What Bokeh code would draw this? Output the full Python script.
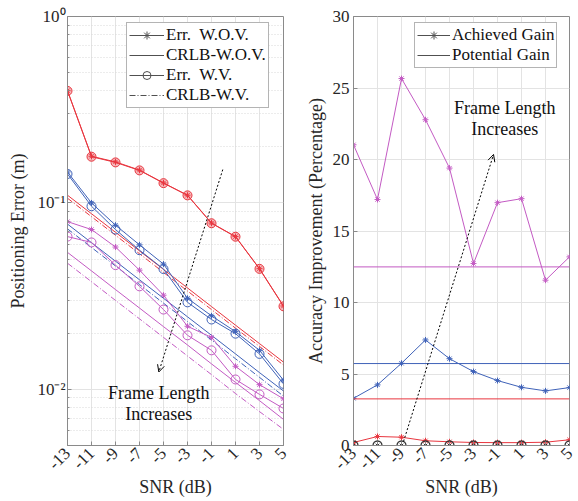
import math
from bokeh.plotting import figure
from bokeh.layouts import row
from bokeh.models import (Range1d, FixedTicker, CustomJSTickFormatter, Legend, LegendItem,
                          Arrow, OpenHead, Label, Span)
from bokeh.embed import file_html
from bokeh.resources import INLINE

# ---------------- data ----------------
snr = [-13, -11, -9, -7, -5, -3, -1, 1, 3, 5]
snr_ticks = [-13, -11, -9, -7, -5, -3, -1, 1, 3, 5]
snr_tick_labels = ["-13", "-11", "-9", "-7", "-5", "-3", "-1", "1", "3", "5"]

# left panel: positioning error (m)
err_wov_red = [0.400, 0.178, 0.166, 0.150, 0.128, 0.110, 0.078, 0.066, 0.0444, 0.0280]
err_wv_red = [0.399, 0.177, 0.165, 0.1495, 0.1277, 0.1098, 0.0778, 0.0659, 0.0443, 0.0279]
crlb_wov_red = [0.110, 0.0875, 0.0696, 0.0553, 0.0440, 0.0350, 0.0278, 0.0221, 0.0176, 0.0140]
crlb_wv_red = [0.106, 0.0844, 0.0671, 0.0534, 0.0424, 0.0337, 0.0268, 0.0213, 0.0170, 0.0135]

err_wov_blue = [0.1465, 0.100, 0.076, 0.0596, 0.047, 0.0308, 0.0248, 0.0204, 0.0162, 0.0112]
err_wv_blue = [0.143, 0.096, 0.072, 0.0558, 0.0442, 0.0293, 0.0237, 0.0199, 0.0155, 0.0107]
crlb_wov_blue = [0.0770, 0.0612, 0.0487, 0.0387, 0.0308, 0.0245, 0.0195, 0.0155, 0.0123, 0.0098]
crlb_wv_blue = [0.0726, 0.0577, 0.0459, 0.0365, 0.0290, 0.0231, 0.0184, 0.0146, 0.0116, 0.0092]

err_wov_pink = [0.0794, 0.072, 0.058, 0.0436, 0.032, 0.0218, 0.019, 0.0133, 0.0106, 0.0089]
err_wv_pink = [0.066, 0.0614, 0.0464, 0.0357, 0.0268, 0.0195, 0.0162, 0.0113, 0.0094, 0.0079]
crlb_wov_pink = [0.0543, 0.0432, 0.0343, 0.0273, 0.0217, 0.0173, 0.0137, 0.0109, 0.0087, 0.0069]
crlb_wv_pink = [0.0475, 0.0378, 0.0300, 0.0239, 0.0190, 0.0151, 0.0120, 0.0095, 0.0076, 0.0061]

# right panel: accuracy improvement (%)
gain_red = [0.21, 0.63, 0.58, 0.33, 0.26, 0.21, 0.20, 0.20, 0.23, 0.40]
gain_blue = [3.30, 4.24, 5.75, 7.38, 6.07, 5.17, 4.54, 4.07, 3.82, 4.05]
gain_pink = [21.03, 17.20, 25.66, 22.78, 19.40, 12.73, 16.98, 17.26, 11.56, 13.19]
gain_base = [0, 0, 0, 0, 0, 0, 0, 0, 0, 0]
potential_red = 3.26
potential_blue = 5.73
potential_pink = 12.49

RED = "#e8363f"
BLUE = "#3f62b8"
PINK = "#c35ac3"
GRAY = "#505050"
AX = "#8a8a8a"
TXT = "#262626"
FONT = "serif"
NAN = float("nan")


def style(p):
    p.background_fill_color = "white"
    p.border_fill_color = "white"
    p.outline_line_color = AX
    p.outline_line_width = 1
    for ax in (p.xaxis[0], p.yaxis[0]):
        ax.axis_line_color = AX
        ax.major_tick_line_color = AX
        ax.minor_tick_line_color = AX
        ax.major_tick_in = 4
        ax.major_tick_out = 0
        ax.minor_tick_in = 2
        ax.minor_tick_out = 0
        ax.major_label_text_font = FONT
        ax.major_label_text_font_size = "17px"
        ax.major_label_text_color = TXT
        ax.axis_label_text_font = FONT
        ax.axis_label_text_font_size = "18px"
        ax.axis_label_text_font_style = "normal"
        ax.axis_label_text_color = TXT
    p.xaxis.ticker = FixedTicker(ticks=snr_ticks)
    p.xaxis.formatter = CustomJSTickFormatter(code="return String(tick)")
    p.xaxis.major_label_overrides = {t: s for t, s in zip(snr_ticks, snr_tick_labels)}
    p.xaxis.major_label_orientation = math.pi / 4
    p.xaxis.major_label_standoff = 5
    p.xaxis.minor_tick_line_color = None
    p.xaxis.axis_label = "SNR (dB)"
    p.xaxis.axis_label_standoff = 0
    p.xgrid.ticker = FixedTicker(ticks=snr_ticks)
    p.xgrid.grid_line_color = "#e3e3e3"
    p.ygrid.grid_line_color = "#e3e3e3"


# ---------------- left figure ----------------
p1 = figure(width=290, height=501, y_axis_type="log", output_backend="svg",
            toolbar_location=None, x_range=Range1d(-13, 5), y_range=Range1d(0.005, 1),
            min_border_left=67, min_border_right=7, min_border_top=15, min_border_bottom=56)
style(p1)
minor = [0.005, 0.006, 0.007, 0.008, 0.009, 0.02, 0.03, 0.04, 0.05, 0.06, 0.07, 0.08, 0.09,
         0.2, 0.3, 0.4, 0.5, 0.6, 0.7, 0.8, 0.9]
p1.yaxis.ticker = FixedTicker(ticks=[0.01, 0.1, 1], minor_ticks=minor)
p1.ygrid.ticker = FixedTicker(ticks=[0.01, 0.1, 1], minor_ticks=minor)
p1.ygrid.minor_grid_line_color = "#d8d8d8"
p1.ygrid.minor_grid_line_dash = "1 2"
p1.yaxis.formatter = CustomJSTickFormatter(code="""
const e = Math.round(Math.log10(tick));
const sup = {"-": "\u207b", "0": "\u2070", "1": "\u00b9", "2": "\u00b2", "3": "\u00b3"};
return "10" + String(e).split("").map(c => sup[c]).join("");
""")
p1.yaxis.major_label_standoff = 2
p1.yaxis.axis_label = "Positioning Error (m)"
p1.yaxis.axis_label_standoff = 6

for col, ew, ev, cw, cv, fa in [(RED, err_wov_red, err_wv_red, crlb_wov_red, crlb_wv_red, 0.35),
                                (BLUE, err_wov_blue, err_wv_blue, crlb_wov_blue, crlb_wv_blue, 0.0),
                                (PINK, err_wov_pink, err_wv_pink, crlb_wov_pink, crlb_wv_pink, 0.0)]:
    p1.line(snr, cw, line_color=col, line_width=1)
    p1.line(snr, cv, line_color=col, line_width=1, line_dash="6 2 1 2")
    p1.line(snr, ew, line_color=col, line_width=1)
    p1.line(snr, ev, line_color=col, line_width=1)
    p1.scatter(snr, ev, marker="circle", size=9, line_color=col, fill_color=col,
               fill_alpha=fa, line_width=1)
    p1.scatter(snr, ew, marker="asterisk", size=6, line_color=col, line_width=1)

# legend dummies
l1a = p1.line([NAN], [NAN], line_color=GRAY, line_width=1)
l1b = p1.scatter([NAN], [NAN], marker="asterisk", size=6, line_color=GRAY)
l2 = p1.line([NAN], [NAN], line_color=GRAY, line_width=1)
l3a = p1.line([NAN], [NAN], line_color=GRAY, line_width=1)
l3b = p1.scatter([NAN], [NAN], marker="circle", size=8, line_color=GRAY, fill_color=None)
l4 = p1.line([NAN], [NAN], line_color=GRAY, line_width=1, line_dash="6 2 1 2")
leg1 = Legend(items=[LegendItem(label="Err.  W.O.V.", renderers=[l1a, l1b]),
                     LegendItem(label="CRLB-W.O.V.", renderers=[l2]),
                     LegendItem(label="Err.  W.V.", renderers=[l3a, l3b]),
                     LegendItem(label="CRLB-W.V.", renderers=[l4])],
              location=(59, 337))
p1.add_layout(leg1)

p1.add_layout(Arrow(end=OpenHead(size=7, line_width=1, line_color="black"),
                    x_start=-0.06, y_start=0.151, x_end=-5.39, y_end=0.0124,
                    line_color="black", line_width=1, line_dash="2 2"))
p1.add_layout(Label(x=-5.4, y=0.00955, text="Frame Length", text_align="center",
                    text_baseline="middle", text_font=FONT, text_font_size="18px",
                    text_color="#111111"))
p1.add_layout(Label(x=-5.4, y=0.00735, text="Increases", text_align="center",
                    text_baseline="middle", text_font=FONT, text_font_size="18px",
                    text_color="#111111"))

# ---------------- right figure ----------------
p2 = figure(width=288, height=501, output_backend="svg", toolbar_location=None,
            x_range=Range1d(-13, 5), y_range=Range1d(0, 30),
            min_border_left=63, min_border_right=9, min_border_top=16, min_border_bottom=56)
style(p2)
p2.yaxis.ticker = FixedTicker(ticks=[0, 5, 10, 15, 20, 25, 30])
p2.ygrid.ticker = FixedTicker(ticks=[0, 5, 10, 15, 20, 25, 30])
p2.yaxis.minor_tick_line_color = None
p2.yaxis.major_label_standoff = 4
p2.yaxis.axis_label = "Accuracy Improvement (Percentage)"
p2.yaxis.axis_label_standoff = 4

for col, pot in [(RED, potential_red), (BLUE, potential_blue), (PINK, potential_pink)]:
    p2.add_layout(Span(location=pot, dimension="width", line_color=col, line_width=1))
for col, g in [(RED, gain_red), (BLUE, gain_blue), (PINK, gain_pink)]:
    p2.line(snr, g, line_color=col, line_width=1)
    p2.scatter(snr, g, marker="asterisk", size=6, line_color=col, line_width=1)
p2.line(snr, gain_base, line_color="#333333", line_width=1)
p2.scatter(snr, gain_base, marker="circle", size=9, line_color="#333333", fill_color=None, line_width=1.3)
p2.scatter(snr, gain_base, marker="asterisk", size=5, line_color="#333333", line_width=1)

r1a = p2.line([NAN], [NAN], line_color=GRAY, line_width=1)
r1b = p2.scatter([NAN], [NAN], marker="asterisk", size=6, line_color=GRAY)
r2 = p2.line([NAN], [NAN], line_color=GRAY, line_width=1)
leg2 = Legend(items=[LegendItem(label="Achieved Gain", renderers=[r1a, r1b]),
                     LegendItem(label="Potential Gain", renderers=[r2])],
              location=(61, 377))
p2.add_layout(leg2)

p2.add_layout(Arrow(end=OpenHead(size=7, line_width=1, line_color="black"),
                    x_start=-8.83, y_start=0.28, x_end=-1.33, y_end=20.35,
                    line_color="black", line_width=1, line_dash="2 2"))
p2.add_layout(Label(x=-0.4, y=23.6, text="Frame Length", text_align="center",
                    text_baseline="middle", text_font=FONT, text_font_size="18px",
                    text_color="#111111"))
p2.add_layout(Label(x=-0.4, y=22.15, text="Increases", text_align="center",
                    text_baseline="middle", text_font=FONT, text_font_size="18px",
                    text_color="#111111"))

for leg, gw in [(leg1, 35), (leg2, 33)]:
    leg.label_text_font = FONT
    leg.label_text_font_size = "17px"
    leg.label_text_color = "#111111"
    leg.label_height = 20
    leg.glyph_height = 20
    leg.glyph_width = gw
    leg.label_standoff = 2
    leg.spacing = 0
    leg.padding = 2
    leg.margin = 0
    leg.border_line_color = "#6a6a6a"
    leg.border_line_width = 1
    leg.background_fill_color = "white"
    leg.background_fill_alpha = 1

layout = row(p1, p2)
open("out.html", "w").write(file_html(layout, INLINE))
